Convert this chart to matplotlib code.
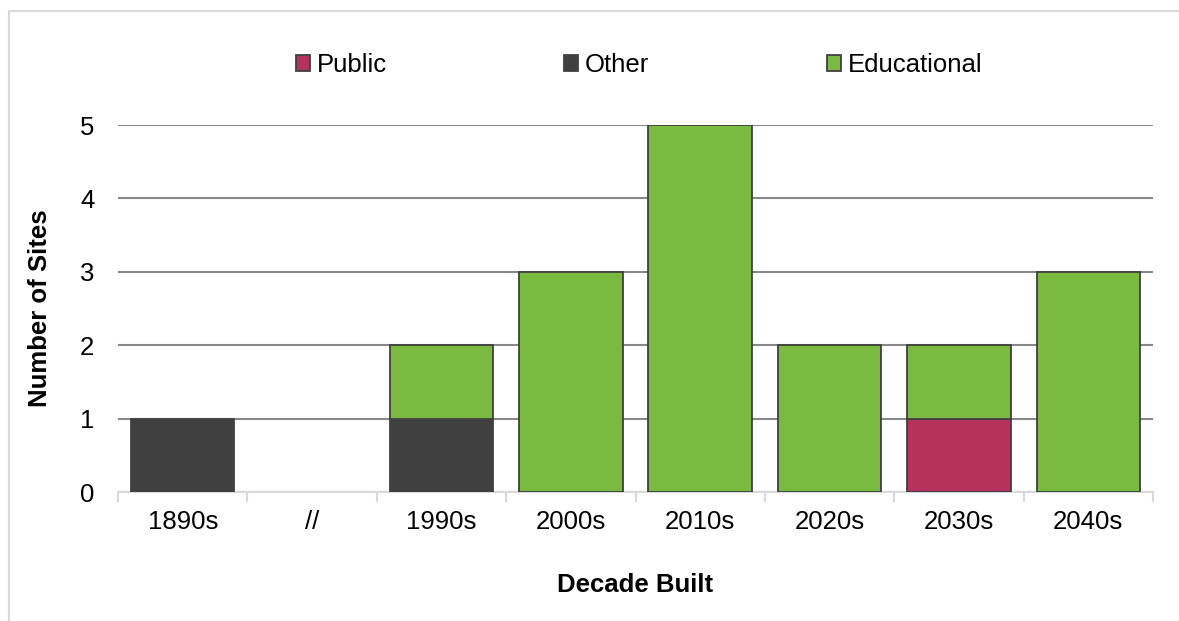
# Stacked bar chart of sites by decade built
import matplotlib.pyplot as plt
from matplotlib.lines import Line2D

plt.rcParams['font.family'] = ['Liberation Sans', 'DejaVu Sans']

# data
decades = ["1890s", "//", "1990s", "2000s", "2010s", "2020s", "2030s", "2040s"]
public = [0, 0, 0, 0, 0, 0, 1, 0]
other = [1, 0, 1, 0, 0, 0, 0, 0]
educational = [0, 0, 1, 3, 5, 2, 1, 3]

colors = {"Public": "#B5325A", "Other": "#404040", "Educational": "#7BBA41"}
edge = "#404040"
fs = 18.5

fig = plt.figure(figsize=(11.79, 6.21), dpi=100)
ax = fig.add_axes([0.1001, 0.2077, 0.8779, 0.591])

x = list(range(len(decades)))
bottom = [0] * len(decades)
for name, vals in [("Public", public), ("Other", other), ("Educational", educational)]:
    # skip zero segments so no flat edge lines are drawn
    xs = [i for i in x if vals[i] > 0]
    hs = [vals[i] for i in xs]
    bs = [bottom[i] for i in xs]
    ax.bar(xs, hs, width=0.8, bottom=bs, color=colors[name], edgecolor=edge,
           linewidth=1.3, label=name, zorder=3)
    bottom = [b + v for b, v in zip(bottom, vals)]

ax.set_xlim(-0.5, len(decades) - 0.5)
ax.set_ylim(0, 5)
ax.set_yticks(range(0, 6))
ax.yaxis.grid(True, color="#888888", linewidth=1.5, zorder=0)
ax.tick_params(axis="y", length=0, labelsize=fs, pad=17)

# category labels, tick marks between categories
ax.set_xticks(x)
ax.set_xticklabels(decades)
ax.tick_params(axis="x", which="major", length=0, labelsize=fs, pad=13)
ax.set_xticks([i - 0.5 for i in range(len(decades) + 1)], minor=True)
ax.tick_params(axis="x", which="minor", length=7, width=1.5, color="#d9d9d9")

for s in ["top", "right", "left"]:
    ax.spines[s].set_visible(False)
ax.spines["bottom"].set_color("#d9d9d9")
ax.spines["bottom"].set_linewidth(1.5)

ax.set_ylabel("Number of Sites", fontsize=fs, fontweight="bold", labelpad=20)
ax.set_xlabel("Decade Built", fontsize=fs, fontweight="bold", labelpad=28)

fig.legend(loc="center", bbox_to_anchor=(0.542, 0.895), ncol=3, frameon=False,
           fontsize=fs, handlelength=0.55, handleheight=0.55, handletextpad=0.27,
           columnspacing=6.9)

# light frame: left and top edges only
fx = 8.5 / 1179
fy = 1 - 10.5 / 621
fig.add_artist(Line2D([fx, fx], [0, fy], transform=fig.transFigure, color="#d9d9d9", linewidth=1.5))
fig.add_artist(Line2D([fx, 1], [fy, fy], transform=fig.transFigure, color="#d9d9d9", linewidth=1.5))

fig.savefig("out.png", dpi=100)
